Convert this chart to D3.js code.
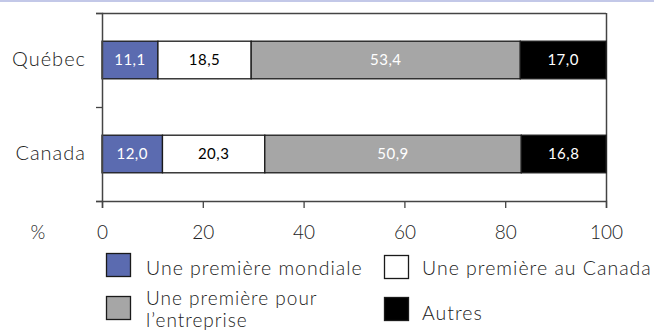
<!DOCTYPE html>
<html>
<head>
<meta charset="utf-8">
<script src="https://cdn.jsdelivr.net/npm/d3@7"></script>
<style>
  html, body { margin: 0; padding: 0; background: #fff; }
  svg { display: block; }
  text { font-family: "Lato", "Open Sans", sans-serif; font-weight: 300; fill: #1a1a1a; }
</style>
</head>
<body>
<svg id="chart" width="654" height="330"></svg>
<script>
// ---- data ----
const categories = ["Québec", "Canada"];
const seriesNames = ["Une première mondiale", "Une première au Canada", "Une première pour l’entreprise", "Autres"];
const mondiale   = [11.1, 12.0];
const auCanada   = [18.5, 20.3];
const entreprise = [53.4, 50.9];
const autres     = [17.0, 16.8];
const xTicks = [0, 20, 40, 60, 80, 100];

// ---- style ----
const fills = ["#5b6bb0", "#ffffff", "#a6a6a6", "#000000"];
const labelColors = ["#ffffff", "#000000", "#ffffff", "#ffffff"];

const svg = d3.select("#chart");
const W = 654, H = 330;
const m = { left: 102, right: 48, top: 13, bottom: 129 };
const x0 = m.left, x1 = W - m.right, y0 = m.top, y1 = H - m.bottom;

// top decorative rule
svg.append("rect").attr("x", 0).attr("y", 0).attr("width", W).attr("height", 2).attr("fill", "#c3c8e8");

const x = d3.scaleLinear().domain([0, 100]).range([x0, x1]);
const y = d3.scaleBand().domain(categories).range([y0, y1]).paddingInner(0.6).paddingOuter(0.3);
const yb = d3.scaleLinear().domain([0, categories.length]).range([y0, y1]);

const table = categories.map((c, i) => ({
  cat: c,
  [seriesNames[0]]: mondiale[i],
  [seriesNames[1]]: auCanada[i],
  [seriesNames[2]]: entreprise[i],
  [seriesNames[3]]: autres[i]
}));
const stack = d3.stack().keys(seriesNames)(table);

// frame (top and right)
svg.append("line").attr("x1", x0).attr("x2", x1).attr("y1", y0 + 0.5).attr("y2", y0 + 0.5)
  .attr("stroke", "#444").attr("stroke-width", 1.5);
svg.append("line").attr("x1", x1 + 0.5).attr("x2", x1 + 0.5).attr("y1", y0).attr("y2", y1)
  .attr("stroke", "#444").attr("stroke-width", 1.5);

// bars
const fmt = v => d3.format(".1f")(v).replace(".", ",");
stack.forEach((layer, k) => {
  const g = svg.append("g");
  g.selectAll("rect").data(layer).join("rect")
    .attr("x", d => x(d[0]))
    .attr("y", d => y(d.data.cat))
    .attr("width", d => x(d[1]) - x(d[0]))
    .attr("height", y.bandwidth())
    .attr("fill", fills[k])
    .attr("stroke", "#1a1a1a")
    .attr("stroke-width", 1.3);
  g.selectAll("text").data(layer).join("text")
    .attr("x", d => (x(d[0]) + x(d[1])) / 2)
    .attr("y", d => y(d.data.cat) + y.bandwidth() / 2)
    .attr("dy", "0.36em")
    .attr("text-anchor", "middle")
    .style("font-size", "15px")
    .style("font-weight", 400)
    .style("letter-spacing", "0.5px")
    .style("fill", labelColors[k])
    .text(d => fmt(d[1] - d[0]));
});

// x axis
const gx = svg.append("g").attr("transform", `translate(0,${y1})`)
  .call(d3.axisBottom(x).tickValues(xTicks).tickSize(7).tickPadding(18).tickFormat(d3.format("d")));
gx.select(".domain").attr("stroke", "#444").attr("stroke-width", 1.5);
gx.selectAll(".tick line").attr("stroke", "#444").attr("stroke-width", 1.3);
gx.selectAll("text").style("font-size", "19px").style("fill", "#222").attr("font-family", null);
gx.append("text").attr("x", 38).attr("y", 7 + 18).attr("dy", "0.71em")
  .attr("text-anchor", "middle").style("font-size", "19px").style("fill", "#222").text("%");

// y axis boundary ticks
const gyb = svg.append("g").attr("transform", `translate(${x0},0)`)
  .call(d3.axisLeft(yb).tickValues(d3.range(categories.length + 1)).tickSize(6).tickFormat(""));
gyb.select(".domain").attr("stroke", "#444").attr("stroke-width", 1.5);
gyb.selectAll(".tick line").attr("stroke", "#444").attr("stroke-width", 1.3);

// y category labels
const gy = svg.append("g").attr("transform", `translate(${x0},0)`)
  .call(d3.axisLeft(y).tickSize(0).tickPadding(16));
gy.select(".domain").remove();
gy.selectAll("text").style("font-size", "20px").style("letter-spacing", "1px")
  .style("fill", "#222").attr("font-family", null);

// legend
const legend = [
  { i: 0, x: 106, y: 253, tx: 146, lines: ["Une première mondiale"] },
  { i: 1, x: 384, y: 255, tx: 422, lines: ["Une première au Canada"] },
  { i: 2, x: 106, y: 296, tx: 146, lines: ["Une première pour", "l’entreprise"] },
  { i: 3, x: 384, y: 297, tx: 422, lines: ["Autres"] }
];
legend.forEach(l => {
  svg.append("rect").attr("x", l.x + 0.5).attr("y", l.y + 0.5).attr("width", 24).attr("height", 23)
    .attr("fill", fills[l.i]).attr("stroke", "#1a1a1a").attr("stroke-width", 1.3);
  if (l.lines.length === 1) {
    svg.append("text").attr("x", l.tx).style("font-size", "19.5px")
      .style("letter-spacing", "1px").style("fill", "#222")
      .attr("y", (l.i === 3 ? l.y + 16 : 268)).attr("dy", "0.36em").text(l.lines[0]);
  } else {
    l.lines.forEach((s, j) => svg.append("text").attr("x", l.tx).style("font-size", "19px")
      .style("letter-spacing", "1px").style("fill", "#222")
      .attr("y", l.y + 9 + j * 22).text(s));
  }
});
</script>
</body>
</html>
